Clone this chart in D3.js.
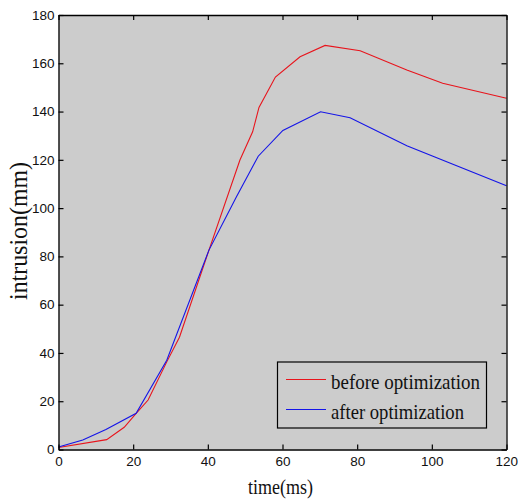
<!DOCTYPE html>
<html><head><meta charset="utf-8">
<script src="https://cdn.jsdelivr.net/npm/d3@7"></script>
<style>body{margin:0;background:#fff}svg{display:block}</style>
</head><body>
<svg id="c" width="518" height="500"></svg>
<script>
const beforeX = [0, 12.9, 17.6, 20.8, 24.0, 29.0, 32.4, 40.3, 48.6, 52.0, 53.7, 58.1, 64.7, 71.4, 80.8, 93.3, 102.9, 120];
const beforeY = [0.8, 4.1, 9.2, 15.0, 20.5, 36.3, 46.5, 82.6, 119.9, 131.6, 141.7, 154.3, 162.7, 167.4, 165.2, 157.2, 151.7, 145.5];
const afterX = [0, 6.5, 12.7, 20.8, 29.0, 40.3, 47.6, 53.5, 60.1, 70.2, 78.1, 93.3, 120];
const afterY = [1.0, 3.9, 8.3, 15.0, 37.0, 82.6, 104.5, 121.5, 132.2, 139.9, 137.4, 125.8, 109.3];
const xTicks = [0, 20, 40, 60, 80, 100, 120];
const yTicks = [0, 20, 40, 60, 80, 100, 120, 140, 160, 180];
const seriesNames = ["before optimization", "after optimization"];
const seriesColors = ["#e8141c", "#1414e8"];

const svg = d3.select("#c");
const L = 58.5, R = 506.5, T = 15, B = 449.5;
const x = d3.scaleLinear().domain([0, 120]).range([L, R]);
const y = d3.scaleLinear().domain([0, 180]).range([B, T]);

svg.append("rect").attr("x", L).attr("y", T).attr("width", R - L).attr("height", B - T).attr("fill", "#cccccc");

const line = d3.line().x(d => x(d[0])).y(d => y(d[1]));
const series = [d3.zip(beforeX, beforeY), d3.zip(afterX, afterY)];
series.forEach((s, i) => {
  svg.append("path").datum(s).attr("d", line).attr("fill", "none")
    .attr("stroke", seriesColors[i]).attr("stroke-width", 1.1);
});

const fontSans = "Liberation Sans, Arial, sans-serif";
const fontSerif = "Liberation Serif, Times New Roman, serif";

// axes
const ax = svg.append("g").attr("transform", `translate(0,${B})`)
  .call(d3.axisBottom(x).tickValues(xTicks).tickSize(-5).tickPadding(9).tickSizeOuter(0));
const axT = svg.append("g").attr("transform", `translate(0,${T})`)
  .call(d3.axisTop(x).tickValues(xTicks).tickSize(-5).tickFormat("").tickSizeOuter(0));
const ay = svg.append("g").attr("transform", `translate(${L},0)`)
  .call(d3.axisLeft(y).tickValues(yTicks).tickSize(-5).tickPadding(9).tickSizeOuter(0));
const ayR = svg.append("g").attr("transform", `translate(${R},0)`)
  .call(d3.axisRight(y).tickValues(yTicks).tickSize(-5).tickFormat("").tickSizeOuter(0));
[ax, axT, ay, ayR].forEach(g => {
  g.select(".domain").attr("stroke", "#000").attr("stroke-width", 1.3);
  g.selectAll(".tick line").attr("stroke", "#000").attr("stroke-width", 1.2);
  g.selectAll(".tick text").attr("fill", "#111").attr("font-family", fontSans).attr("font-size", 13.5);
});
ax.selectAll(".tick text").attr("dy", "0.71em").attr("y", 7);
ax.selectAll(".tick text").filter(d => d === 120).attr("text-anchor", "end").attr("x", 11);
ay.selectAll(".tick text").attr("x", -4);

// axis titles
svg.append("text").attr("x", 280.5).attr("y", 494).attr("text-anchor", "middle")
  .attr("font-family", fontSerif).attr("font-size", 21).attr("fill", "#111")
  .attr("textLength", 65).attr("lengthAdjust", "spacingAndGlyphs").text("time(ms)");
svg.append("text").attr("transform", "translate(27,231) rotate(-90)").attr("text-anchor", "middle")
  .attr("font-family", fontSerif).attr("font-size", 26).attr("fill", "#111")
  .attr("textLength", 138).attr("lengthAdjust", "spacingAndGlyphs").text("intrusion(mm)");

// legend
const lg = svg.append("g");
lg.append("rect").attr("x", 277.5).attr("y", 362).attr("width", 209).attr("height", 66)
  .attr("fill", "#cccccc").attr("stroke", "#000").attr("stroke-width", 1.2);
const lens = [149, 133];
seriesNames.forEach((n, i) => {
  const yy = 379.5 + i * 30;
  lg.append("line").attr("x1", 286).attr("x2", 326).attr("y1", yy).attr("y2", yy)
    .attr("stroke", seriesColors[i]).attr("stroke-width", 1.1);
  lg.append("text").attr("x", 331).attr("y", yy + 9).attr("font-family", fontSerif)
    .attr("font-size", 22).attr("fill", "#111")
    .attr("textLength", lens[i]).attr("lengthAdjust", "spacingAndGlyphs").text(n);
});
</script>
</body></html>
